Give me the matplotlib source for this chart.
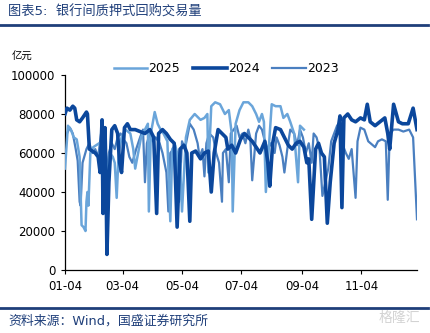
import numpy as np
import matplotlib
matplotlib.use('Agg')
import matplotlib.pyplot as plt
from matplotlib.lines import Line2D

plt.rcParams['font.family'] = ['DejaVu Sans', 'Noto Sans CJK SC']

# x = days after 01-04, values in 亿元
days_2025 = [0, 3, 6, 9, 12, 15, 16, 17, 19, 21, 22, 23, 24, 26, 29, 32, 35, 38, 41,
             44, 46, 49, 51, 53, 55, 58, 62, 67, 70, 72, 75, 78, 82, 85, 86, 88, 92,
             95, 98, 101, 105, 108, 110, 113, 115, 117, 118, 120, 124, 128, 133, 139,
             143, 146, 147, 150, 154, 159, 164, 168, 171, 172, 175, 179, 183, 188,
             192, 196, 199, 202, 204, 206, 212, 216, 221, 224, 228, 231, 235, 239,
             241, 245]
vals_2025 = [52, 74, 72, 68, 67, 58, 40, 23, 22, 20, 35, 40, 33, 60, 63, 64, 65, 62, 64,
             46, 60, 58, 55, 37, 60, 68, 72, 70, 62, 52, 60, 68, 72, 75, 30, 70, 81,
             75, 72, 70, 66, 25, 62, 64, 60, 36, 55, 30, 68, 77, 80, 77,
             78, 80, 50, 84, 86, 85, 80, 82, 70, 30, 75, 82, 86, 86,
             84, 80, 76, 80, 76, 40, 85, 84, 84, 78, 80, 76, 70, 45,
             74, 72]

days_2024 = [0, 2, 5, 8, 10, 12, 15, 18, 22, 23, 25, 28, 31, 34, 36, 38, 39, 41, 42,
             43, 45, 48, 51, 54, 56, 58, 61, 64, 67, 72, 77, 82, 87, 91, 94, 96, 100,
             104, 108, 112, 115, 118, 122, 125, 128, 130, 134, 139, 143, 147, 150,
             153, 157, 161, 165, 167, 171, 175, 180, 184, 188, 192, 196, 200, 205,
             208, 210, 213, 216, 221, 225, 229, 233, 237, 241, 245, 248, 250, 253,
             257, 260, 263, 266, 269, 272, 276, 280, 282, 284, 286, 290, 294, 298,
             303, 307, 310, 313, 318, 323, 328, 331, 333, 337, 342, 346, 352, 357, 361]
vals_2024 = [80, 83, 82, 84, 83, 77, 76, 78, 81, 80, 62, 61, 60, 58, 50, 77, 29, 73, 50,
             8, 45, 72, 74, 70, 55, 50, 73, 75, 72, 72, 71, 70, 72, 68, 29, 70, 72,
             70, 67, 65, 22, 62, 64, 60, 25, 60, 61, 57, 60, 61, 40,
             60, 72, 70, 68, 62, 64, 60, 67, 70, 68, 66, 63, 60, 66,
             55, 43, 65, 73, 72, 68, 64, 62, 65, 66, 63, 55, 57, 26,
             62, 65, 60, 58, 24, 45, 65, 72, 79, 32, 78, 80, 77, 76,
             78, 77, 85, 76, 74, 76, 78, 70, 62, 85, 76, 75, 75, 83, 72]

days_2023 = [0, 2, 5, 8, 11, 13, 15, 16, 18, 22, 25, 28, 31, 34, 37, 40, 42, 45, 48,
             51, 54, 57, 60, 63, 66, 69, 73, 77, 80, 82, 84, 87, 90, 93, 97, 100, 104,
             106, 108, 111, 114, 117, 120, 123, 128, 132, 136, 138, 141, 143, 145,
             148, 152, 155, 158, 161, 162, 165, 168, 170, 173, 176, 179, 182, 185,
             188, 190, 192, 196, 199, 202, 205, 208, 211, 215, 217, 220, 223, 225,
             228, 231, 235, 238, 241, 244, 247, 250, 253, 255, 258, 261, 264, 267,
             270, 273, 276, 279, 282, 285, 288, 291, 294, 298, 300, 303, 307, 311,
             318, 321, 325, 329, 331, 333, 337, 342, 347, 353, 357, 361]
vals_2023 = [65, 70, 73, 70, 62, 56, 35, 33, 55, 62, 65, 60, 62, 58, 70, 66, 45, 60, 65,
             62, 68, 70, 67, 65, 58, 55, 62, 68, 72, 45, 65, 70, 66, 68, 65, 60, 50,
             30, 60, 62, 58, 35, 66, 62, 75, 72, 65, 58, 62, 48, 65,
             70, 68, 60, 55, 35, 60, 62, 45, 70, 72, 74, 68, 70, 65,
             72, 68, 46, 70, 74, 72, 66, 62, 65, 60, 68, 64, 58, 50,
             62, 72, 70, 64, 72, 68, 60, 65, 55, 70, 68, 62, 38, 45,
             52, 66, 70, 74, 76, 64, 60, 57, 62, 37, 66, 73, 72, 66,
             63, 66, 67, 66, 36, 70, 72, 72, 71, 72, 68, 26]

tick_days = [0, 59, 120, 181, 243, 304]
tick_labels = ['01-04', '03-04', '05-04', '07-04', '09-04', '11-04']

c2025 = '#6aa5da'
c2024 = '#0b479c'
c2023 = '#4a7fc0'
navy = '#1f3f7a'

fig = plt.figure(figsize=(4.3, 3.33), dpi=100)
ax = fig.add_axes([65 / 430, 1 - 270 / 333, 352 / 430, 195 / 333])

ax.plot(days_2023, np.array(vals_2023) * 1000, color=c2023, lw=1.6, zorder=2)
ax.plot(days_2025, np.array(vals_2025) * 1000, color=c2025, lw=1.8, zorder=3)
ax.plot(days_2024, np.array(vals_2024) * 1000, color=c2024, lw=2.6, zorder=4)

ax.set_xlim(0, 361)
ax.set_ylim(0, 100000)
ax.set_yticks(range(0, 100001, 20000))
ax.set_xticks(tick_days)
ax.set_xticklabels(tick_labels)
ax.tick_params(labelsize=8.5, length=3, width=0.8, pad=4)
for s in ['top', 'right']:
    ax.spines[s].set_visible(False)
for s in ['left', 'bottom']:
    ax.spines[s].set_linewidth(0.9)

handles = [Line2D([], [], color=c2025, lw=1.8),
           Line2D([], [], color=c2024, lw=2.6),
           Line2D([], [], color=c2023, lw=1.6)]
fig.legend(handles, ['2025', '2024', '2023'], loc='center', ncol=3,
           bbox_to_anchor=(226 / 430, 1 - 69 / 333), frameon=False,
           fontsize=9, handlelength=2.7, handletextpad=0.1, columnspacing=1.0)

fig.text(12 / 430, 1 - 57 / 333, '亿元', fontsize=7.5, va='center')

# header / footer
fig.text(8 / 430, 1 - 12 / 333, '图表5:  银行间质押式回购交易量', fontsize=9.5,
         color=navy, va='center')
fig.add_artist(Line2D([0, 428 / 430], [1 - 25 / 333] * 2, color=navy, lw=2,
                      transform=fig.transFigure))
fig.add_artist(Line2D([0, 428 / 430], [1 - 308 / 333] * 2, color=navy, lw=2,
                      transform=fig.transFigure))
fig.text(8 / 430, 1 - 321 / 333, '资料来源：Wind，国盛证券研究所', fontsize=9.3,
         color=navy, va='center')
fig.text(420 / 430, 1 - 318 / 333, '格隆汇', fontsize=10, color='#c8c8c8',
         ha='right', va='center', alpha=0.8)

fig.savefig('out.png', dpi=100)
